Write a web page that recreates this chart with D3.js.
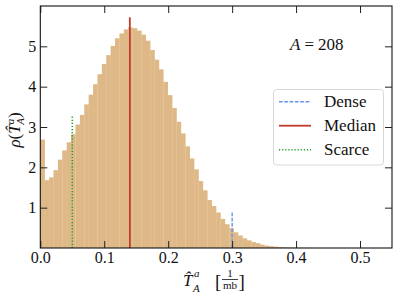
<!DOCTYPE html>
<html><head><meta charset="utf-8">
<script src="https://cdn.jsdelivr.net/npm/d3@7"></script>
<style>
html,body{margin:0;padding:0;background:#fff;}
text{font-family:"Liberation Serif",serif;}
</style></head>
<body>
<svg id="c" width="398" height="297"></svg>
<script>
// ---- data ----
const binWidth = 0.006875;            // histogram bin width (1/mb)
const binStart = 0.0;
const density = [2.69,1.68,1.75,1.93,2.19,2.42,2.62,2.82,3.06,3.30,
  3.56,3.80,4.06,4.31,4.56,4.78,5.01,5.20,5.32,5.42,
  5.47,5.45,5.39,5.29,5.14,4.91,4.67,4.43,4.12,3.79,
  3.47,3.13,2.84,2.52,2.22,1.95,1.66,1.43,1.19,1.04,
  0.88,0.72,0.59,0.49,0.39,0.31,0.24,0.19,0.15,0.12,
  0.085,0.06,0.045,0.035,0.025,0.02,0.015,0.01,0.007,0.005,
  0.003,0.002,0.001];
const markerNames = ["Dense","Median","Scarce"];
const markerX = [0.30, 0.14, 0.05];
const markerTop = [0.89, 5.72, 3.29];
const xTicks = [0.0,0.1,0.2,0.3,0.4,0.5];
const yTicks = [1,2,3,4,5];
const annotation = "208";

// ---- layout ----
const svg = d3.select("#c");
const L=40.3, R=392, T=6, B=248;
const x = d3.scaleLinear().domain([0,0.55]).range([L,R]);
const y = d3.scaleLinear().domain([0,6]).range([B,T]);

// bars
const bins = density.map((v,i)=>({x0:binStart+i*binWidth, x1:binStart+(i+1)*binWidth, v}));
svg.append("g").selectAll("rect").data(bins).join("rect")
  .attr("x",d=>x(d.x0)).attr("width",d=>x(d.x1)-x(d.x0)+0.2)
  .attr("y",d=>y(d.v)).attr("height",d=>y(0)-y(d.v))
  .attr("fill","#deb887");

// marker lines
const mStyle = {
  Dense:{color:"#6495ed",dash:"3.7,1.6",w:1.4},
  Median:{color:"#c0392b",dash:null,w:1.8},
  Scarce:{color:"#22a022",dash:"1.2,1.9",w:1.6}
};
markerNames.forEach((n,i)=>{
  const s=mStyle[n];
  svg.append("line").attr("x1",x(markerX[i])).attr("x2",x(markerX[i]))
    .attr("y1",y(0)).attr("y2",y(markerTop[i]))
    .attr("stroke",s.color).attr("stroke-width",s.w)
    .attr("stroke-dasharray",s.dash);
});

// axes (ticks inward on all sides)
const fs = "16px";
const ax = svg.append("g").attr("transform",`translate(0,${B})`)
  .call(d3.axisBottom(x).tickValues(xTicks).tickFormat(d3.format(".1f")).tickSize(-7).tickPadding(4));
const axTop = svg.append("g").attr("transform",`translate(0,${T})`)
  .call(d3.axisTop(x).tickValues(xTicks).tickFormat("").tickSize(-7));
const ay = svg.append("g").attr("transform",`translate(${L},0)`)
  .call(d3.axisLeft(y).tickValues(yTicks).tickFormat(d3.format("d")).tickSize(-7).tickPadding(4));
const ayR = svg.append("g").attr("transform",`translate(${R},0)`)
  .call(d3.axisRight(y).tickValues(yTicks).tickFormat("").tickSize(-7));
[ax,axTop,ay,ayR].forEach(g=>{
  g.attr("font-family",null);
  g.select(".domain").remove();
  g.selectAll(".tick line").attr("stroke","#222").attr("stroke-width",1);
  g.selectAll(".tick text").attr("font-size",fs).attr("fill","#111");
});
// frame
svg.append("rect").attr("x",L).attr("y",T).attr("width",R-L).attr("height",B-T)
  .attr("fill","none").attr("stroke","#111").attr("stroke-width",1.1);

// annotation A = 208
const ann = svg.append("text").attr("x",290).attr("y",49.5).attr("font-size","17px").attr("fill","#111");
ann.append("tspan").attr("font-style","italic").text("A");
ann.append("tspan").attr("dx",4).text("=");
ann.append("tspan").attr("dx",4).text(annotation);

// legend
const lg = svg.append("g");
lg.append("rect").attr("x",273.5).attr("y",89.5).attr("width",110).attr("height",75.5)
  .attr("rx",3).attr("fill","#fff").attr("fill-opacity",0.85).attr("stroke","#d8d8d8").attr("stroke-width",1);
markerNames.forEach((n,i)=>{
  const s=mStyle[n]; const cy = 101.7 + i*24;
  lg.append("line").attr("x1",279).attr("x2",311).attr("y1",cy).attr("y2",cy)
    .attr("stroke",s.color).attr("stroke-width",s.w).attr("stroke-dasharray",s.dash);
  lg.append("text").attr("x",324).attr("y",cy+5.5).attr("font-size","17px").attr("fill","#111").text(n);
});

// y label: ρ(T̂^a_A)
const yl = svg.append("g").attr("transform","translate(20,130) rotate(-90)");
const ylt = yl.append("text").attr("text-anchor","middle").attr("font-size","17px").attr("fill","#111");
ylt.append("tspan").attr("font-style","italic").text("ρ");
ylt.append("tspan").text("(");
ylt.append("tspan").attr("font-style","italic").text("T\u0302");
ylt.append("tspan").attr("font-style","italic").attr("font-size","11px").attr("dy",-6).text("a");
ylt.append("tspan").attr("font-style","italic").attr("font-size","11px").attr("dx",-6).attr("dy",10).text("A");
ylt.append("tspan").attr("dy",-4).text(")");

// x label: T̂^a_A [1/mb]
const xl = svg.append("g").attr("fill","#111");
xl.append("text").attr("x",183).attr("y",286).attr("font-size","17px").attr("font-style","italic").text("T\u0302");
xl.append("text").attr("x",194).attr("y",277).attr("font-size","11px").attr("font-style","italic").text("a");
xl.append("text").attr("x",193).attr("y",292).attr("font-size","11px").attr("font-style","italic").text("A");
xl.append("text").attr("x",215).attr("y",288).attr("font-size","19px").text("[");
xl.append("text").attr("x",230).attr("y",277).attr("text-anchor","middle").attr("font-size","11px").text("1");
xl.append("line").attr("x1",222).attr("x2",238).attr("y1",279.5).attr("y2",279.5).attr("stroke","#111").attr("stroke-width",0.8);
xl.append("text").attr("x",230).attr("y",288.5).attr("text-anchor","middle").attr("font-size","11px").text("mb");
xl.append("text").attr("x",238.5).attr("y",288).attr("font-size","19px").text("]");
</script>
</body></html>
